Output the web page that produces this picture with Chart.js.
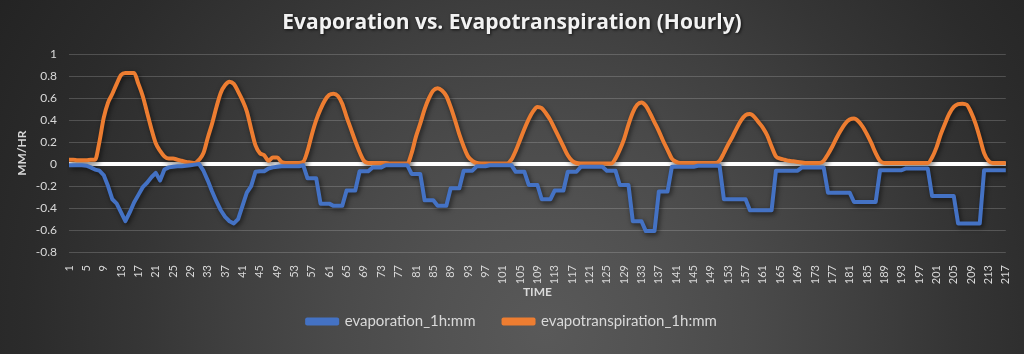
<!DOCTYPE html>
<html>
<head>
<meta charset="utf-8">
<title>Evaporation vs. Evapotranspiration (Hourly)</title>
<script src="https://cdn.jsdelivr.net/npm/chart.js@4.4.1/dist/chart.umd.min.js"></script>
<style>
  html, body { margin: 0; padding: 0; }
  body {
    width: 1024px; height: 354px; overflow: hidden;
    background: radial-gradient(circle at 545px 330px,
      #595959 0px, #525252 110px, #4a4a4a 210px, #404040 310px,
      #353535 410px, #2b2b2b 520px, #222 660px);
  }
  #wrap { position: relative; width: 1024px; height: 354px; }
</style>
</head>
<body>
<div id="wrap"><canvas id="myChart"></canvas></div>
<script>
'use strict';

// ***** DATA *****
// hour index along the x axis (1 ... 217)
const hours = Array.from({ length: 217 }, (_, i) => String(i + 1));
const labelEvery = 4;

const seriesNames = ['evaporation_1h:mm', 'evapotranspiration_1h:mm'];

// evaporation (mm per hour, plotted negative)
const evaporation = [
  -0.01, -0.01, -0.01, -0.01, -0.015, -0.03, -0.05, -0.06, -0.1, -0.2,
  -0.32, -0.36, -0.44, -0.52, -0.44, -0.35, -0.28, -0.21, -0.17, -0.12,
  -0.08, -0.15, -0.05, -0.03, -0.025, -0.02, -0.02, -0.015, -0.01, -0.005,
  0, -0.06, -0.15, -0.25, -0.34, -0.42, -0.48, -0.52, -0.54, -0.5,
  -0.38, -0.26, -0.2, -0.07, -0.065, -0.065, -0.04, -0.03, -0.025, -0.02,
  -0.02, -0.02, -0.02, -0.02, -0.01, -0.13, -0.13, -0.13, -0.36, -0.36,
  -0.36, -0.38, -0.38, -0.38, -0.24, -0.24, -0.24, -0.065, -0.065, -0.065,
  -0.03, -0.03, -0.03, -0.01, -0.01, -0.01, -0.01, -0.01, -0.01, -0.09,
  -0.09, -0.09, -0.33, -0.33, -0.33, -0.38, -0.38, -0.38, -0.22, -0.22,
  -0.22, -0.06, -0.06, -0.06, -0.02, -0.02, -0.02, -0.01, -0.01, -0.01,
  -0.01, -0.01, -0.01, -0.07, -0.07, -0.07, -0.19, -0.19, -0.19, -0.32,
  -0.32, -0.32, -0.24, -0.24, -0.24, -0.07, -0.07, -0.07, -0.025, -0.025,
  -0.025, -0.025, -0.025, -0.025, -0.06, -0.06, -0.06, -0.19, -0.19, -0.19,
  -0.52, -0.52, -0.52, -0.61, -0.61, -0.61, -0.25, -0.25, -0.25, -0.025,
  -0.025, -0.025, -0.025, -0.025, -0.025, -0.015, -0.015, -0.015, -0.015, -0.015,
  -0.015, -0.32, -0.32, -0.32, -0.32, -0.32, -0.32, -0.42, -0.42, -0.42,
  -0.42, -0.42, -0.42, -0.06, -0.06, -0.06, -0.06, -0.06, -0.06, -0.03,
  -0.03, -0.03, -0.03, -0.03, -0.03, -0.26, -0.26, -0.26, -0.26, -0.26,
  -0.26, -0.345, -0.345, -0.345, -0.345, -0.345, -0.345, -0.055, -0.055, -0.055,
  -0.055, -0.055, -0.055, -0.04, -0.04, -0.04, -0.04, -0.04, -0.04, -0.29,
  -0.29, -0.29, -0.29, -0.29, -0.29, -0.54, -0.54, -0.54, -0.54, -0.54,
  -0.54, -0.055, -0.055, -0.055, -0.055, -0.055, -0.055
];

// evapotranspiration (mm per hour)
const evapotranspiration = [
  0.04, 0.04, 0.035, 0.035, 0.035, 0.04, 0.04, 0.2, 0.42, 0.56,
  0.64, 0.73, 0.81, 0.83, 0.83, 0.83, 0.73, 0.62, 0.47, 0.32,
  0.19, 0.12, 0.07, 0.05, 0.05, 0.04, 0.03, 0.02, 0.015, 0.01,
  0.04, 0.1, 0.24, 0.37, 0.52, 0.65, 0.72, 0.75, 0.73, 0.66,
  0.58, 0.48, 0.32, 0.17, 0.1, 0.08, 0.03, 0.06, 0.06, 0.02,
  0.01, 0.01, 0.01, 0.01, 0.02, 0.12, 0.27, 0.4, 0.5, 0.58,
  0.63, 0.64, 0.62, 0.55, 0.43, 0.32, 0.21, 0.11, 0.03, 0.01,
  0.01, 0.01, 0.01, 0.01, 0.005, 0.005, 0.005, 0.005, 0.005, 0.1,
  0.25, 0.37, 0.5, 0.6, 0.67, 0.69, 0.67, 0.62, 0.52, 0.4,
  0.27, 0.16, 0.07, 0.03, 0.01, 0.005, 0.005, 0.005, 0.005, 0.005,
  0.005, 0.005, 0.04, 0.12, 0.22, 0.32, 0.41, 0.48, 0.52, 0.51,
  0.46, 0.4, 0.32, 0.24, 0.16, 0.08, 0.03, 0.01, 0.005, 0.005,
  0.005, 0.005, 0.005, 0.005, 0.005, 0.005, 0.05, 0.13, 0.23, 0.36,
  0.47, 0.54, 0.56, 0.53, 0.46, 0.38, 0.3, 0.21, 0.13, 0.05,
  0.02, 0.01, 0.01, 0.01, 0.01, 0.01, 0.01, 0.01, 0.01, 0.01,
  0.03, 0.1, 0.18, 0.25, 0.33, 0.4, 0.445, 0.455, 0.43, 0.38,
  0.33, 0.26, 0.16, 0.07, 0.05, 0.04, 0.03, 0.025, 0.02, 0.015,
  0.01, 0.01, 0.01, 0.01, 0.03, 0.09, 0.16, 0.24, 0.31, 0.37,
  0.405, 0.415, 0.39, 0.34, 0.27, 0.19, 0.1, 0.03, 0.01, 0.01,
  0.01, 0.01, 0.01, 0.01, 0.01, 0.01, 0.01, 0.01, 0.01, 0.06,
  0.15, 0.27, 0.37, 0.46, 0.52, 0.545, 0.55, 0.54, 0.47, 0.37,
  0.24, 0.1, 0.03, 0.01, 0.01, 0.01, 0.01
];

// y axis range
const yMin = -0.8;
const yMax = 1;
const yStep = 0.2;

// ***** STYLE *****
const textColor = '#d9d9d9';
const gridColor = 'rgba(217, 217, 217, 0.22)';
const fontName = 'Lato, "Open Sans", sans-serif';

// dark glow under the lines (and the title), like the excel shadow effect
const shadowFx = {
  id: 'shadowFx',
  afterLayout(chart) {
    const tb = chart.titleBlock;
    if (tb && !tb._shadowed) {
      const orig = tb.draw;
      tb.draw = function () {
        const c = this.ctx;
        c.save();
        c.shadowColor = 'rgba(0, 0, 0, 0.75)';
        c.shadowBlur = 3;
        c.shadowOffsetX = 1;
        c.shadowOffsetY = 1.5;
        orig.apply(this, arguments);
        c.restore();
      };
      tb._shadowed = true;
    }
  },
  beforeDatasetDraw(chart) {
    const c = chart.ctx;
    c.save();
    c.shadowColor = 'rgba(0, 0, 0, 0.6)';
    c.shadowBlur = 5;
    c.shadowOffsetX = 1.5;
    c.shadowOffsetY = 2;
  },
  afterDatasetDraw(chart) {
    chart.ctx.restore();
  }
};

const ctx = document.getElementById('myChart').getContext('2d');

const myChart = new Chart(ctx, {
  type: 'line',
  data: {
    labels: hours,
    datasets: [
      {
        label: seriesNames[0],
        data: evaporation,
        borderColor: '#4472c4',
        backgroundColor: '#4472c4',
        borderWidth: 4,
        pointRadius: 0,
        tension: 0,
        borderJoinStyle: 'round'
      },
      {
        label: seriesNames[1],
        data: evapotranspiration,
        borderColor: '#ed7d31',
        backgroundColor: '#ed7d31',
        borderWidth: 4,
        pointRadius: 0,
        cubicInterpolationMode: 'monotone',
        borderJoinStyle: 'round'
      }
    ]
  },
  options: {
    responsive: true,
    maintainAspectRatio: false,
    animation: false,
    layout: { padding: { left: 17, right: 17, top: 0, bottom: 15 } },
    plugins: {
      title: {
        display: true,
        text: 'Evaporation vs. Evapotranspiration (Hourly)',
        color: '#f2f2f2',
        font: { family: '"Open Sans", sans-serif', size: 21, weight: 'bold' },
        padding: { top: 10, bottom: 19 }
      },
      legend: {
        position: 'bottom',
        labels: {
          color: textColor,
          font: { family: fontName, size: 15 },
          boxWidth: 30,
          boxHeight: 4,
          padding: 28
        }
      },
      tooltip: { enabled: false }
    },
    scales: {
      x: {
        grid: { display: false },
        border: { display: false },
        ticks: {
          color: textColor,
          font: { family: fontName, size: 11 },
          autoSkip: false,
          minRotation: 90,
          maxRotation: 90,
          padding: 5,
          callback: (val, idx) => (idx % labelEvery === 0 ? hours[idx] : null)
        },
        title: {
          display: true,
          text: 'TIME',
          color: textColor,
          font: { family: fontName, size: 12, weight: 'bold' },
          padding: { top: 0, bottom: -13 }
        },
        afterFit: (scale) => { scale.height = 34; }
      },
      y: {
        min: yMin,
        max: yMax,
        border: { display: false },
        grid: {
          drawTicks: false,
          color: (c) => (c.tick && c.tick.value === 0 ? '#ffffff' : gridColor),
          lineWidth: (c) => (c.tick && c.tick.value === 0 ? 4 : 1)
        },
        ticks: {
          stepSize: yStep,
          color: textColor,
          font: { family: fontName, size: 12 },
          padding: 12,
          callback: (v) => String(Math.round(v * 10) / 10)
        },
        title: {
          display: true,
          text: 'MM/HR',
          color: textColor,
          font: { family: fontName, size: 12, weight: 'bold' },
          padding: { top: -2, bottom: 0 }
        },
        afterFit: (scale) => { scale.width = 52; }
      }
    }
  },
  plugins: [shadowFx]
});
</script>
</body>
</html>
